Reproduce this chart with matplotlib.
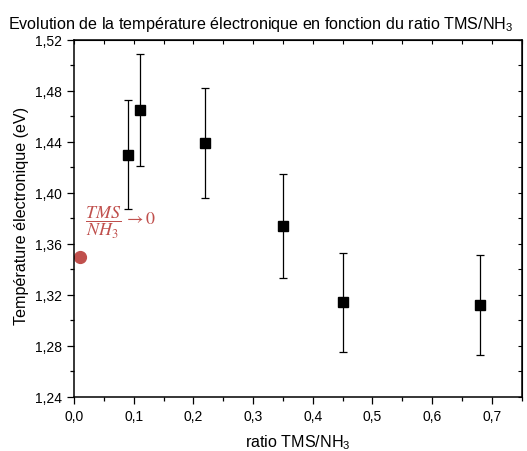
import matplotlib
matplotlib.use("agg")
import matplotlib.pyplot as plt
from matplotlib.ticker import MultipleLocator, FuncFormatter

plt.rcParams["font.family"] = ["Liberation Sans", "DejaVu Sans"]
plt.rcParams["mathtext.fontset"] = "stix"

# mesures
ratio = [0.09, 0.11, 0.22, 0.35, 0.45, 0.68]
temp_e = [1.430, 1.465, 1.439, 1.374, 1.314, 1.312]
err_temp = [0.043, 0.044, 0.043, 0.041, 0.039, 0.039]

# point extrapole TMS/NH3 -> 0
ratio_zero = [0.01]
temp_zero = [1.350]

red = "#c0504d"

fig = plt.figure(figsize=(5.27, 4.52), dpi=100)
ax = fig.add_axes([0.1404, 0.120, 0.8496, 0.7893])

ax.errorbar(ratio, temp_e, yerr=err_temp, fmt="s", color="black",
            markersize=6.5, ecolor="black", elinewidth=0.9, capsize=3,
            capthick=0.9)
ax.plot(ratio_zero, temp_zero, "o", color=red, markersize=8.5)

ax.text(0.019, 1.377, r"$\dfrac{TMS}{NH_3}\,\rightarrow 0$", color=red,
        fontsize=13, ha="left", va="center")

ax.set_xlim(0, 0.75)
ax.set_ylim(1.24, 1.52)
ax.xaxis.set_major_locator(MultipleLocator(0.1))
ax.xaxis.set_minor_locator(MultipleLocator(0.05))
ax.yaxis.set_major_locator(MultipleLocator(0.04))
ax.yaxis.set_minor_locator(MultipleLocator(0.02))
ax.xaxis.set_major_formatter(FuncFormatter(lambda v, p: f"{v:.1f}".replace(".", ",")))
ax.yaxis.set_major_formatter(FuncFormatter(lambda v, p: f"{v:.2f}".replace(".", ",")))

ax.tick_params(which="both", direction="out", top=False, right=False,
               labelsize=10, width=0.9)
ax.tick_params(which="major", length=5)
ax.tick_params(which="minor", length=3)

# graduations interieures en haut et a droite
sec_x = ax.secondary_xaxis("top")
sec_x.xaxis.set_major_locator(MultipleLocator(0.05))
sec_x.tick_params(direction="in", length=3, labeltop=False, width=0.8)
sec_y = ax.secondary_yaxis("right")
sec_y.yaxis.set_major_locator(MultipleLocator(0.02))
sec_y.tick_params(direction="in", length=3, labelright=False, width=0.8)

for s in ax.spines.values():
    s.set_linewidth(1.1)

ax.set_xlabel(r"ratio TMS/NH$\mathregular{_3}$", fontsize=11.6, labelpad=7)
ax.set_ylabel("Température électronique (eV)", fontsize=11.6)
ax.yaxis.set_label_coords(-0.100, 0.51)

fig.text(8 / 527, 1 - 25 / 452,
         r"Evolution de la température électronique en fonction du ratio TMS/NH$\mathregular{_3}$",
         fontsize=11.6, ha="left", va="center")

fig.savefig("out.png", dpi=100)
plt.close(fig)
